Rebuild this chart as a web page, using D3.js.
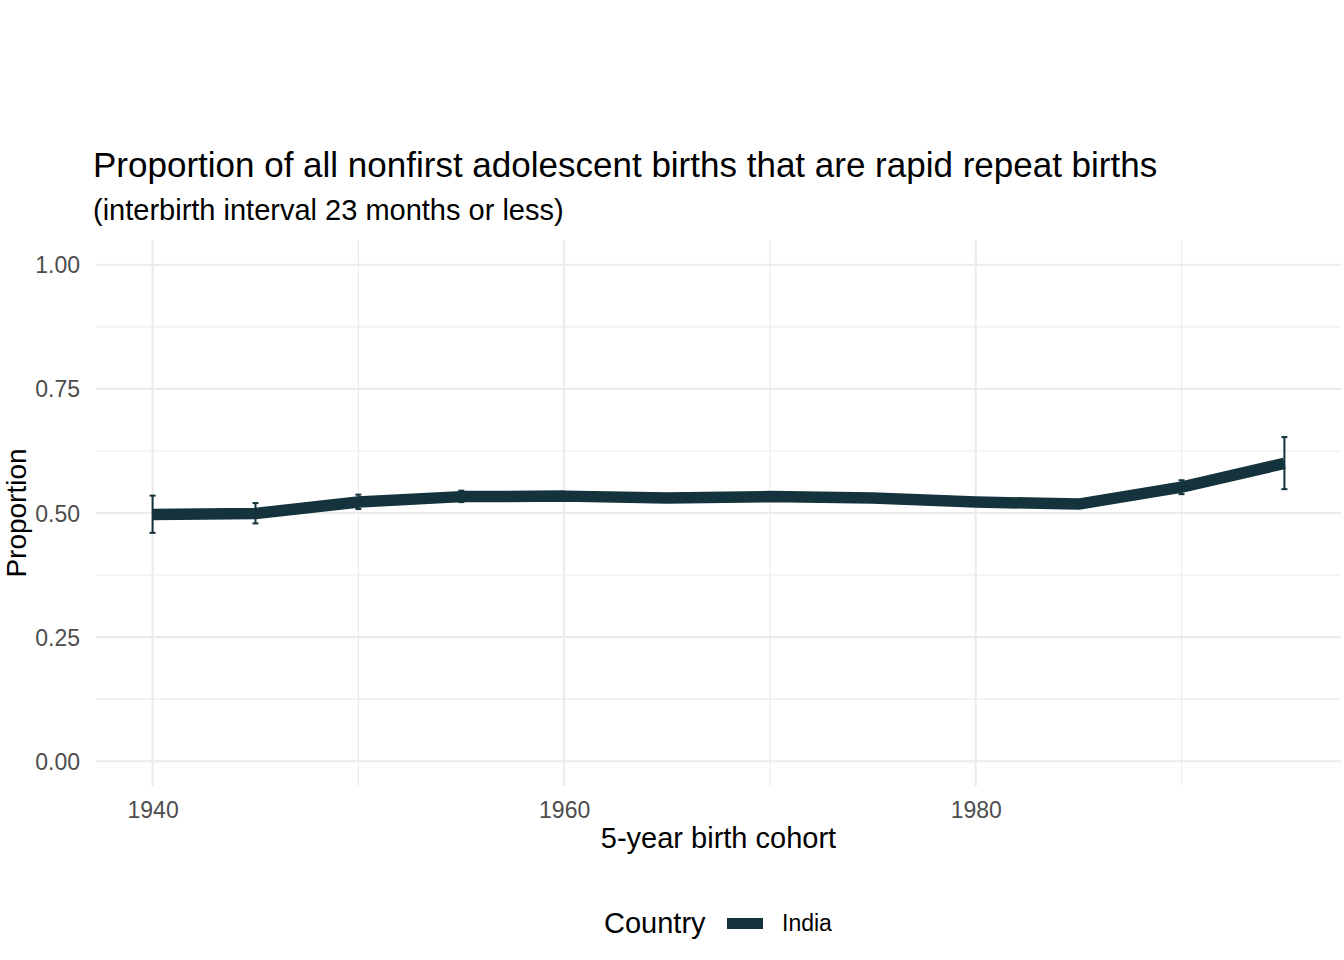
<!DOCTYPE html>
<html><head><meta charset="utf-8">
<script src="https://cdn.jsdelivr.net/npm/d3@7"></script>
<style>body{margin:0;background:#fff}svg{display:block}text{font-family:"Liberation Sans",Arial,sans-serif}</style>
</head><body>
<svg id="c" width="1344" height="960"></svg>
<script>
const years = [1940,1945,1950,1955,1960,1965,1970,1975,1980,1985,1990,1995];
const proportion = [0.497,0.499,0.522,0.533,0.534,0.530,0.533,0.530,0.522,0.518,0.552,0.600];
const lower = [0.460,0.479,0.508,0.522,0.526,0.524,0.527,0.524,0.516,0.511,0.538,0.548];
const upper = [0.535,0.520,0.537,0.545,0.542,0.536,0.539,0.536,0.528,0.525,0.566,0.653];
const xTicks = [1940,1960,1980];
const xMinor = [1950,1970,1990];
const yTicks = [0,0.25,0.5,0.75,1];
const yMinor = [0.125,0.375,0.625,0.875];
const country = "India";
const color = "#14333d";

const svg = d3.select("#c");
const L = 96, R = 1341, T = 240, B = 786;
const x = d3.scaleLinear().domain([1937.25,1997.75]).range([L,R]);
const y = d3.scaleLinear().domain([-0.05,1.05]).range([B,T]);
const grid = svg.append("g");
grid.selectAll(".ym").data(yMinor).enter().append("line")
  .attr("x1",L).attr("x2",R).attr("y1",d=>y(d)).attr("y2",d=>y(d))
  .attr("stroke","#ebebeb").attr("stroke-width",1.1);
grid.selectAll(".xm").data(xMinor).enter().append("line")
  .attr("y1",T).attr("y2",B).attr("x1",d=>x(d)).attr("x2",d=>x(d))
  .attr("stroke","#ebebeb").attr("stroke-width",1.1);
grid.selectAll(".yM").data(yTicks).enter().append("line")
  .attr("x1",L).attr("x2",R).attr("y1",d=>y(d)).attr("y2",d=>y(d))
  .attr("stroke","#ebebeb").attr("stroke-width",2.1);
grid.selectAll(".xM").data(xTicks).enter().append("line")
  .attr("y1",T).attr("y2",B).attr("x1",d=>x(d)).attr("x2",d=>x(d))
  .attr("stroke","#ebebeb").attr("stroke-width",2.1);

const data = years.map((yr,i)=>({yr,p:proportion[i],lo:lower[i],hi:upper[i]}));
const eb = svg.append("g");
data.forEach(d=>{
  eb.append("line").attr("x1",x(d.yr)).attr("x2",x(d.yr)).attr("y1",y(d.lo)).attr("y2",y(d.hi))
    .attr("stroke",color).attr("stroke-width",2);
  [d.lo,d.hi].forEach(v=>eb.append("line").attr("x1",x(d.yr)-3).attr("x2",x(d.yr)+3)
    .attr("y1",y(v)).attr("y2",y(v)).attr("stroke",color).attr("stroke-width",2));
});
svg.append("path").datum(data)
  .attr("d",d3.line().x(d=>x(d.yr)).y(d=>y(d.p)))
  .attr("fill","none").attr("stroke",color).attr("stroke-width",11.5).attr("stroke-linejoin","round");

const xa = d3.axisBottom(x).tickValues(xTicks).tickFormat(d3.format("d")).tickSize(0).tickPadding(0);
const gx = svg.append("g").attr("transform",`translate(0,${B})`).call(xa);
gx.select(".domain").remove();
gx.selectAll("text").attr("font-size",23).attr("fill","#4d4d4d").attr("dy",0).attr("y",32);
const ya = d3.axisLeft(y).tickValues(yTicks).tickFormat(d3.format(".2f")).tickSize(0).tickPadding(0);
const gy = svg.append("g").attr("transform",`translate(80,0)`).call(ya);
gy.select(".domain").remove();
gy.selectAll("text").attr("font-size",23).attr("fill","#4d4d4d").attr("x",0).attr("dy","0.35em");

svg.append("text").attr("x",93).attr("y",177).attr("font-size",35).attr("fill","#000")
  .text("Proportion of all nonfirst adolescent births that are rapid repeat births");
svg.append("text").attr("x",93).attr("y",220).attr("font-size",29).attr("fill","#000")
  .text("(interbirth interval 23 months or less)");
svg.append("text").attr("x",(L+R)/2).attr("y",848).attr("text-anchor","middle").attr("font-size",29)
  .text("5-year birth cohort");
svg.append("text").attr("transform",`translate(26,${(T+B)/2}) rotate(-90)`).attr("text-anchor","middle")
  .attr("font-size",28).text("Proportion");

svg.append("text").attr("x",604).attr("y",933).attr("font-size",29).text("Country");
svg.append("rect").attr("x",727).attr("y",918).attr("width",36).attr("height",11).attr("fill",color);
svg.append("text").attr("x",782).attr("y",931).attr("font-size",23).text(country);
</script>
</body></html>
